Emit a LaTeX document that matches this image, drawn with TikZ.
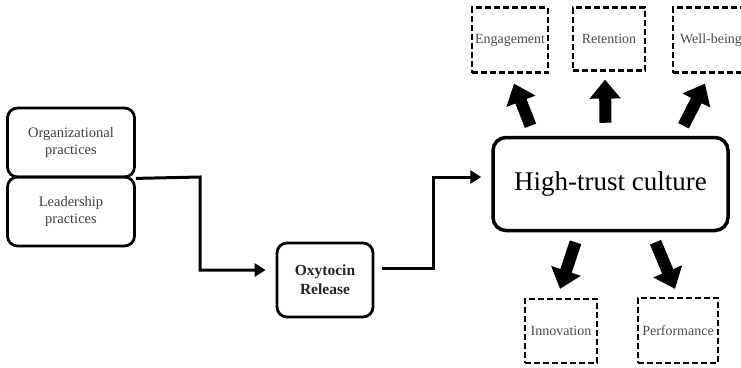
\documentclass[tikz,border=0pt]{standalone}
\usepackage{fontspec}
\setmainfont{Liberation Serif}
\usetikzlibrary{arrows.meta}
\begin{document}
\begin{tikzpicture}[x=1pt,y=-1pt, every node/.style={inner sep=1pt,align=center},
  practice/.style={draw,line width=2.8pt,rounded corners=10pt,minimum width=127pt,minimum height=69pt,font=\fontsize{14.5}{17}\selectfont,text=black!75},
  outcome/.style={draw,dashed,line width=2.2pt,dash pattern=on 6pt off 3pt,font=\fontsize{14}{16}\selectfont,text=black!70},
  flow/.style={line width=3pt,-{Triangle[length=11pt,width=13pt]}},
  bigarrow/.style={line width=12pt,-{Triangle[length=19pt,width=30pt]}}]
  \useasboundingbox (0,0) rectangle (741,367);
  \node [practice] (org) at (71,142.5) {Organizational\\practices};
  \node [practice] (lead) at (71,211.5) {Leadership\\practices};
  \node [draw,line width=2.8pt,rounded corners=10pt,minimum width=96pt,minimum height=74pt,font=\fontsize{15.5}{19}\selectfont\bfseries,text=black!85] (oxy) at (325,280) {Oxytocin\\Release};
  \node [draw,line width=3.5pt,rounded corners=13pt,minimum width=235pt,minimum height=93pt,font=\fontsize{27}{32}\selectfont] (htc) at (610.5,184) {High-trust culture};
  \node [outcome,minimum width=76pt,minimum height=65pt] (eng) at (510,40) {Engagement};
  \node [outcome,minimum width=72pt,minimum height=63pt] (ret) at (609,39) {Retention};
  \node [outcome,minimum width=76pt,minimum height=65pt] (well) at (711,40) {Well-being};
  \node [outcome,minimum width=72pt,minimum height=64pt] (inno) at (561,331) {Innovation};
  \node [outcome,minimum width=80pt,minimum height=65pt] (perf) at (678,330.5) {Performance};
  \draw [flow] (org.south east) -- (200,177) |- ([xshift=-10pt,yshift=10pt]oxy.west);
  \draw [flow] ([xshift=8pt,yshift=12pt]oxy.east) -- (433,268) |- ([xshift=-10pt,yshift=7pt]htc.west);
  \draw [bigarrow] ([xshift=-80pt,yshift=10pt]htc.north) -- ([xshift=4pt,yshift=-10pt]eng.south);
  \draw [bigarrow] ([xshift=-5pt,yshift=13pt]htc.north) -- ([xshift=-4pt,yshift=-8pt]ret.south);
  \draw [bigarrow] ([xshift=73pt,yshift=10pt]htc.north) -- ([xshift=-6pt,yshift=-10pt]well.south);
  \draw [bigarrow] ([xshift=-35pt,yshift=-10pt]htc.south) -- ([xshift=-1pt,yshift=9pt]inno.north);
  \draw [bigarrow] ([xshift=45pt,yshift=-10pt]htc.south) -- ([xshift=-3pt,yshift=8pt]perf.north);
\end{tikzpicture}
\end{document}
